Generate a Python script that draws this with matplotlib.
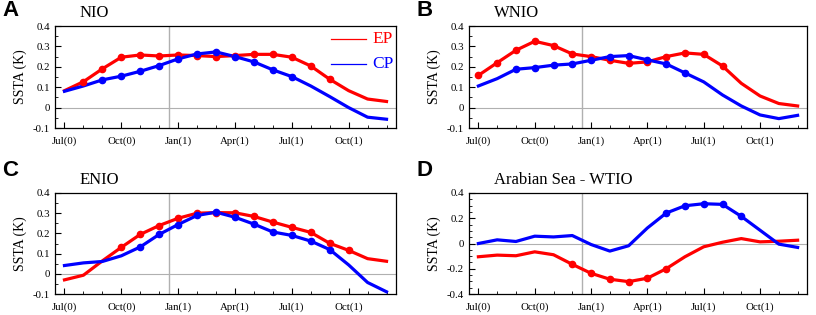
import numpy as np
import matplotlib
matplotlib.use("Agg")
import matplotlib.pyplot as plt
from matplotlib.ticker import MultipleLocator, FixedLocator

months = np.arange(18)
tick_pos = [0, 3, 6, 9, 12, 15]
tick_labels = ["Jul(0)", "Oct(0)", "Jan(1)", "Apr(1)", "Jul(1)", "Oct(1)"]

titles = ["NIO", "WNIO", "ENIO", "Arabian Sea - WTIO"]
letters = ["A", "B", "C", "D"]

ep_nio = [0.083, 0.127, 0.19, 0.247, 0.258, 0.253, 0.258, 0.255, 0.25, 0.255, 0.261, 0.261, 0.247, 0.204, 0.139, 0.083, 0.042, 0.03]
cp_nio = [0.08, 0.106, 0.136, 0.154, 0.178, 0.206, 0.239, 0.263, 0.273, 0.25, 0.224, 0.185, 0.152, 0.106, 0.054, 0.0, -0.047, -0.057]
ep_nio_sig = [1, 2, 3, 4, 5, 6, 7, 8, 9, 10, 11, 12, 13, 14]
cp_nio_sig = [2, 3, 4, 5, 6, 7, 8, 9, 10, 11, 12]

ep_wnio = [0.158, 0.22, 0.281, 0.325, 0.304, 0.263, 0.25, 0.232, 0.217, 0.224, 0.25, 0.268, 0.261, 0.204, 0.119, 0.057, 0.02, 0.008]
cp_wnio = [0.106, 0.142, 0.188, 0.196, 0.208, 0.214, 0.232, 0.25, 0.255, 0.234, 0.214, 0.17, 0.126, 0.062, 0.008, -0.036, -0.054, -0.038]
ep_wnio_sig = [0, 1, 2, 3, 4, 5, 6, 7, 8, 9, 10, 11, 12, 13]
cp_wnio_sig = [2, 3, 4, 5, 6, 7, 8, 9, 10, 11]

ep_enio = [-0.03, -0.007, 0.064, 0.131, 0.195, 0.239, 0.275, 0.3, 0.303, 0.302, 0.284, 0.256, 0.23, 0.205, 0.151, 0.116, 0.075, 0.062]
cp_enio = [0.041, 0.054, 0.061, 0.089, 0.133, 0.195, 0.244, 0.289, 0.305, 0.28, 0.246, 0.207, 0.19, 0.162, 0.12, 0.044, -0.043, -0.089]
ep_enio_sig = [3, 4, 5, 6, 7, 8, 9, 10, 11, 12, 13, 14, 15]
cp_enio_sig = [4, 5, 6, 7, 8, 9, 10, 11, 12, 13, 14]

ep_as = [-0.105, -0.092, -0.097, -0.066, -0.089, -0.165, -0.236, -0.283, -0.302, -0.275, -0.2, -0.105, -0.026, 0.01, 0.039, 0.013, 0.018, 0.026]
cp_as = [0.0, 0.029, 0.016, 0.058, 0.052, 0.063, -0.008, -0.06, -0.018, 0.123, 0.241, 0.299, 0.315, 0.31, 0.215, 0.105, -0.005, -0.031]
ep_as_sig = [5, 6, 7, 8, 9, 10]
cp_as_sig = [10, 11, 12, 13, 14]

ep_series = [ep_nio, ep_wnio, ep_enio, ep_as]
cp_series = [cp_nio, cp_wnio, cp_enio, cp_as]
ep_sigs = [ep_nio_sig, ep_wnio_sig, ep_enio_sig, ep_as_sig]
cp_sigs = [cp_nio_sig, cp_wnio_sig, cp_enio_sig, cp_as_sig]

serif = ["Liberation Serif", "DejaVu Serif"]
RED = "#ff0000"
BLUE = "#0000ff"

fig = plt.figure(figsize=(8.16, 3.15), dpi=100)

positions = [
    (55, 26, 396, 128),
    (469, 26, 807, 128),
    (55, 193, 396, 294),
    (469, 193, 807, 294),
]
letter_y = [10, 10, 170, 170]
W, H = 816, 315

for i, (l, t, r, b) in enumerate(positions):
    ax = fig.add_axes([l / W, 1 - b / H, (r - l) / W, (b - t) / H])
    ax.axhline(0, color="#b0b0b0", lw=0.8, zorder=1)
    ax.axvline(5.5, color="#b0b0b0", lw=1.0, zorder=1)
    ep = np.array(ep_series[i])
    cp = np.array(cp_series[i])
    ax.plot(months, ep, color=RED, lw=2.3, zorder=3)
    ax.plot(months, cp, color=BLUE, lw=2.3, zorder=3)
    es = np.array(ep_sigs[i])
    cs = np.array(cp_sigs[i])
    ax.plot(months[es], ep[es], "o", color=RED, ms=4.5, zorder=4)
    ax.plot(months[cs], cp[cs], "o", color=BLUE, ms=4.5, zorder=4)

    ax.set_xlim(-0.5, 17.5)
    if i < 3:
        ax.set_ylim(-0.1, 0.4)
        ax.set_yticks([-0.1, 0, 0.1, 0.2, 0.3, 0.4])
        ax.set_yticklabels(["-0.1", "0", "0.1", "0.2", "0.3", "0.4"])
        ax.yaxis.set_minor_locator(MultipleLocator(0.05))
    else:
        ax.set_ylim(-0.4, 0.4)
        ax.set_yticks([-0.4, -0.2, 0, 0.2, 0.4])
        ax.set_yticklabels(["-0.4", "-0.2", "0", "0.2", "0.4"])
        ax.yaxis.set_minor_locator(MultipleLocator(0.05))
    ax.set_xticks(tick_pos)
    ax.set_xticklabels(tick_labels)
    ax.xaxis.set_minor_locator(FixedLocator(months))
    ax.tick_params(axis="both", which="major", direction="in", length=4, width=0.8,
                   labelsize=7.8, top=False, right=False)
    ax.tick_params(axis="both", which="minor", direction="in", length=2, width=0.6,
                   top=False, right=False)
    ax.tick_params(axis="x", which="major", pad=6)
    for lab in ax.get_xticklabels() + ax.get_yticklabels():
        lab.set_family(serif)
    for sp in ax.spines.values():
        sp.set_linewidth(0.9)
    ax.set_ylabel("SSTA (K)", family=serif, fontsize=10, labelpad=4)

    fig.text((l - 53) / W, 1 - letter_y[i] / H, letters[i], fontsize=16, fontweight="bold",
             family=["Liberation Sans", "DejaVu Sans"], va="center", ha="left")
    fig.text((l + 25) / W, 1 - (t - 13) / H, titles[i], fontsize=12,
             family=serif, va="center", ha="left")

    if i == 0:
        fig.lines.append(plt.Line2D([331 / W, 366 / W], [1 - 39 / H, 1 - 39 / H],
                                    color=RED, lw=0.9, transform=fig.transFigure))
        fig.lines.append(plt.Line2D([331 / W, 366 / W], [1 - 64 / H, 1 - 64 / H],
                                    color=BLUE, lw=0.9, transform=fig.transFigure))
        fig.text(372 / W, 1 - 39 / H, "EP", color=RED, fontsize=12.5, family=serif,
                 va="center", ha="left")
        fig.text(372 / W, 1 - 64 / H, "CP", color=BLUE, fontsize=12.5, family=serif,
                 va="center", ha="left")

fig.savefig("out.png", dpi=100)
